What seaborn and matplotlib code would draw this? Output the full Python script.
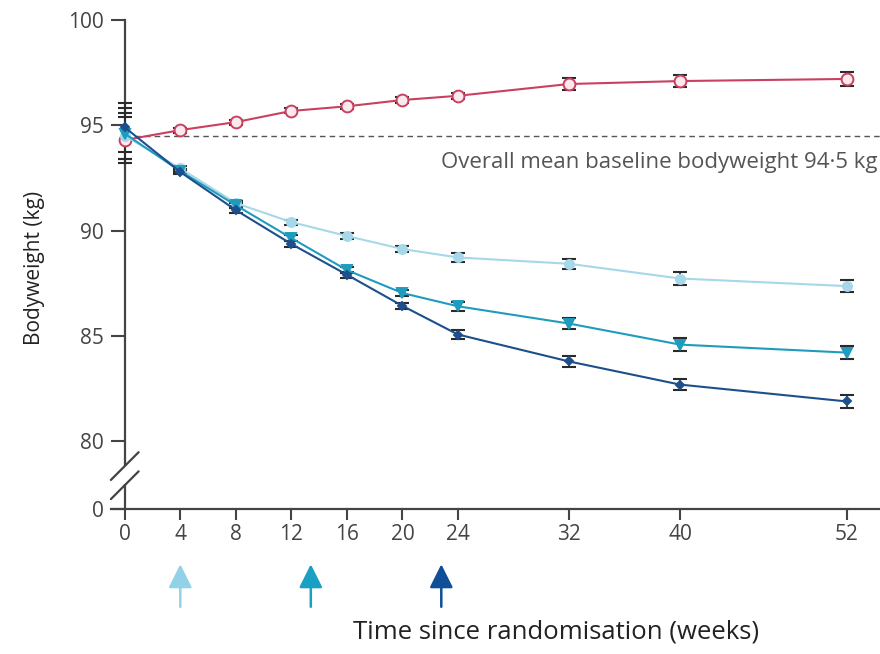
import numpy as np
import pandas as pd
import matplotlib
matplotlib.use("Agg")
import matplotlib.pyplot as plt
import seaborn as sns

weeks = [0, 4, 8, 12, 16, 20, 24, 32, 40, 52]
placebo = [94.3, 94.77, 95.15, 95.68, 95.9, 96.2, 96.4, 96.96, 97.1, 97.2]
placebo_se = [1.1, 0.12, 0.12, 0.12, 0.12, 0.14, 0.15, 0.28, 0.3, 0.32]
light = [94.5, 92.95, 91.3, 90.4, 89.74, 89.12, 88.72, 88.42, 87.72, 87.36]
light_se = [1.1, 0.1, 0.12, 0.12, 0.12, 0.15, 0.22, 0.25, 0.3, 0.3]
teal = [94.6, 92.82, 91.2, 89.64, 88.12, 87.03, 86.4, 85.58, 84.58, 84.2]
teal_se = [1.2, 0.1, 0.12, 0.14, 0.15, 0.15, 0.2, 0.25, 0.3, 0.32]
navy = [94.9, 92.78, 90.97, 89.36, 87.9, 86.42, 85.06, 83.78, 82.68, 81.88]
navy_se = [1.15, 0.1, 0.12, 0.14, 0.15, 0.15, 0.2, 0.25, 0.28, 0.3]

baseline_mean = 94.5
baseline_label = "Overall mean baseline bodyweight 94·5 kg"
y_ticks = [80, 85, 90, 95, 100]
x_ticks = [0, 4, 8, 12, 16, 20, 24, 32, 40, 52]
arrow_weeks = [4, 13.4, 22.8]

sns.set_theme(style="white")
plt.rcParams['font.family'] = ['Open Sans', 'DejaVu Sans']

fig = plt.figure(figsize=(8.8, 6.54), dpi=100)
ax = fig.add_axes([0.126, 0.2217, 0.874, 0.7477])

zero_pos = 76.77
ax.set_xlim(-1, 54.4)
ax.set_ylim(zero_pos, 100)

groups = [
    ("Placebo", placebo, placebo_se, "#c9415f", "o", 8.5, "#fbe9ee"),
    ("Low", light, light_se, "#a6d8ea", "o", 6.5, "#a6d8ea"),
    ("Mid", teal, teal_se, "#1f9cbd", "v", 6.5, "#1f9cbd"),
    ("High", navy, navy_se, "#1d4f8c", "D", 4.5, "#1d4f8c"),
]

for name, vals, se, col, mk, ms, face in groups:
    df = pd.DataFrame({"week": weeks, "kg": vals})
    ax.errorbar(weeks, vals, yerr=se, fmt="none", ecolor="#2a2a2a",
                elinewidth=1.2, capsize=5, capthick=1.5, zorder=3)
    sns.lineplot(data=df, x="week", y="kg", ax=ax, color=col, lw=1.5,
                 marker=mk, markersize=ms, markerfacecolor=face,
                 markeredgecolor=col, markeredgewidth=1.4, zorder=4)

ax.axhline(baseline_mean, xmin=(0 + 1) / 55.4, xmax=1.0, color="#555555",
           lw=1.0, ls=(0, (4, 3)), zorder=2)
ax.text(54.2, 93.25, baseline_label, ha="right", va="center",
        fontsize=16, color="#555555")

# axes styling
for s in ["top", "right"]:
    ax.spines[s].set_visible(False)
ax.spines["left"].set_position(("data", 0))
ax.spines["left"].set_bounds(78.86, 100)
for s in ["left", "bottom"]:
    ax.spines[s].set_color("#444444")
    ax.spines[s].set_linewidth(1.6)
ax.plot([0, 0], [zero_pos, 77.96], color="#444444", lw=1.6, clip_on=False,
        solid_capstyle="butt")
# break slashes
for yc in [78.81, 77.9]:
    ax.plot([-1.0, 1.0], [yc - 0.66, yc + 0.66], color="#444444", lw=1.6,
            clip_on=False)

ax.set_yticks([zero_pos] + y_ticks)
ax.set_yticklabels(["0"] + [str(t) for t in y_ticks])
ax.set_xticks(x_ticks)
ax.set_xticklabels([str(t) for t in x_ticks])
ax.tick_params(axis="both", direction="out", length=8, width=1.5,
               color="#444444", labelcolor="#444444", labelsize=15, pad=3)
ax.tick_params(axis="y", left=True, length=10, pad=5)
ax.tick_params(axis="x", bottom=True)
ax.set_xlabel("Time since randomisation (weeks)", fontsize=18.5,
              color="#222222")
ax.xaxis.set_label_coords(0.579, -0.226)
ax.set_ylabel("Bodyweight (kg)", fontsize=15, color="#222222")
ax.yaxis.set_label_coords(-0.086, 0.494)

arrow_cols = ["#92d2e8", "#1aa0c2", "#0e4f98"]
for w, c in zip(arrow_weeks, arrow_cols):
    ax.annotate("", xy=(w, -0.113), xytext=(w, -0.2),
                xycoords=ax.get_xaxis_transform(),
                textcoords=ax.get_xaxis_transform(),
                arrowprops=dict(arrowstyle="-|>,head_length=1.2,head_width=0.6",
                                color=c, lw=1.8, shrinkA=0, shrinkB=0),
                annotation_clip=False)

fig.savefig("out.png", dpi=100)
